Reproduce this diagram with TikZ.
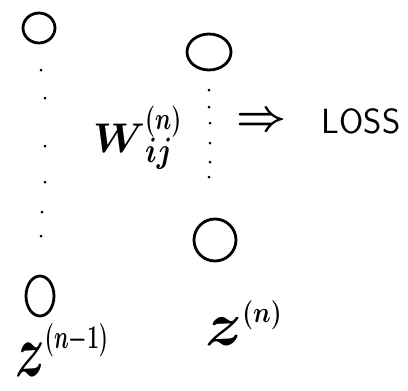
\documentclass[tikz,border=0pt]{standalone}
\usetikzlibrary{shapes.geometric}
\begin{document}
\begin{tikzpicture}[x=1pt,y=-1pt,
  unit/.style={draw, ellipse, line width=2.8pt, inner sep=0pt},
  dotmark/.style={circle, fill=black, inner sep=0pt, minimum size=3pt},
  lbl/.style={inner sep=0pt, font=\fontsize{20}{24}\selectfont\boldmath}]
\useasboundingbox (0,0) rectangle (408,391);
% left layer
\node[unit, minimum width=32pt, minimum height=30pt] (c1) at (39,28) {};
\node[unit, minimum width=28pt, minimum height=40pt] (c2) at (40,296) {};
\node[dotmark] (l1) at (41,70) {};
\node[dotmark] (l2) at (45,98) {};
\node[dotmark] (l3) at (45,146) {};
\node[dotmark] (l4) at (45,182) {};
\node[dotmark] (l5) at (42,212) {};
\node[dotmark] (l6) at (41,236) {};
% right layer
\node[unit, minimum width=44pt, minimum height=36pt] (c3) at (209,52) {};
\node[unit, minimum width=42pt, minimum height=42pt] (c4) at (215,240) {};
\node[dotmark] (r1) at (209,90) {};
\node[dotmark] (r2) at (209,107) {};
\node[dotmark] (r3) at (210,123) {};
\node[dotmark] (r4) at (210,143) {};
\node[dotmark] (r5) at (210,162) {};
\node[dotmark] (r6) at (209,177) {};
% labels
\node[lbl, anchor=base west] (w) at (93,152)
  {$\scalebox{2.0}{$W$}_{\scalebox{1.4}[1.7]{$ij$}}^{\scalebox{1.1}[1.5]{$(n)$}}$};
\node[lbl] (arr) at (262,122) {\scalebox{2.1}{$\Rightarrow$}};
\node[lbl, font=\fontsize{35}{40}\selectfont\sffamily] (loss) at (361,121) {LOSS};
\node[lbl, anchor=base west] (zprev) at (15,376)
  {$\scalebox{2.4}[3.6]{$z$}^{\scalebox{1.0}[1.6]{$(n{-}1)$}}$};
\node[lbl, anchor=base west] (zcur) at (205,345)
  {$\scalebox{3.0}{$z$}^{\scalebox{1.2}[1.4]{$(n)$}}$};
\end{tikzpicture}
\end{document}
